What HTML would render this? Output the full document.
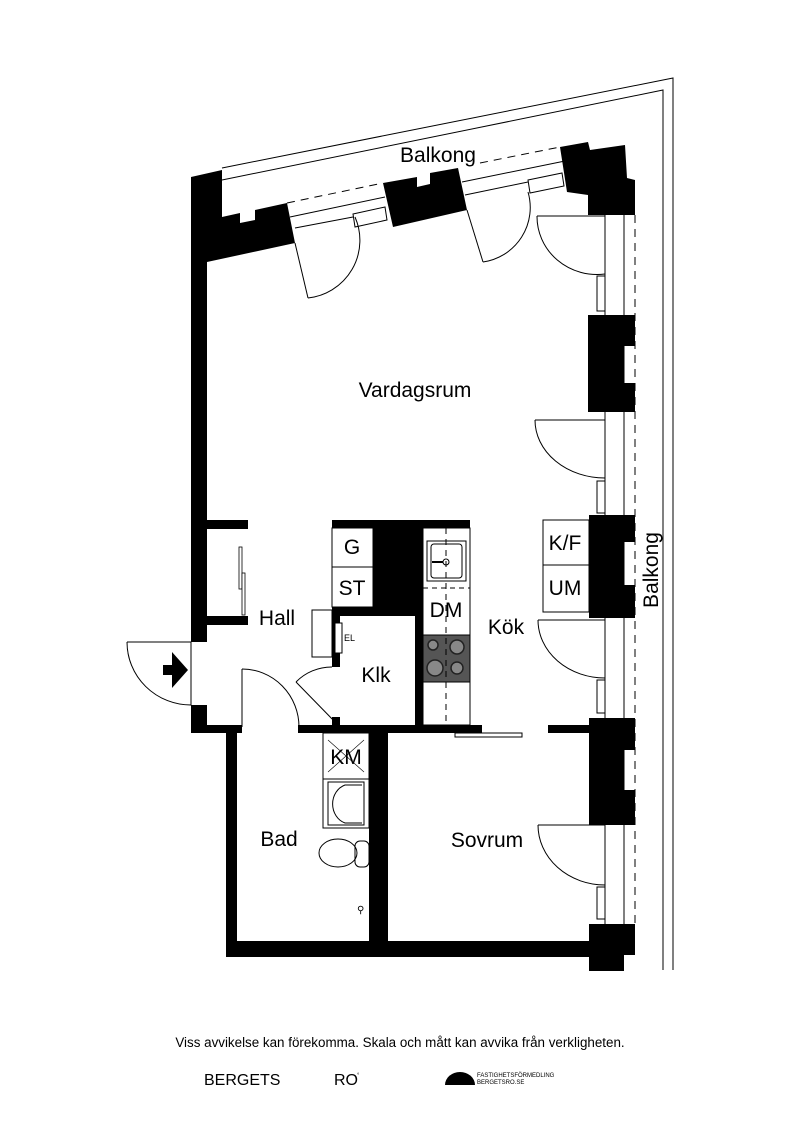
<!DOCTYPE html>
<html><head><meta charset="utf-8"><style>
html,body{margin:0;padding:0;background:#fff}
svg{display:block}
text{font-family:"Liberation Sans",Arial,sans-serif;fill:#000}
</style></head><body>
<svg width="800" height="1131" viewBox="0 0 800 1131" xmlns="http://www.w3.org/2000/svg">
<g fill="none" stroke="#000" stroke-width="1">
<polyline points="222,168 673,78 673,970"/>
<polyline points="222,180 663,90 663,970"/>
<line x1="287" y1="203" x2="383" y2="183" stroke-dasharray="8,6"/>
<line x1="290" y1="217" x2="385" y2="197"/>
<line x1="295" y1="228" x2="353" y2="217"/>
<line x1="480" y1="163" x2="560" y2="147" stroke-dasharray="8,6"/>
<line x1="462" y1="182" x2="565" y2="161"/>
<line x1="465" y1="195" x2="528" y2="182"/>
<line x1="605" y1="215" x2="605" y2="924"/>
<line x1="624" y1="215" x2="624" y2="924"/>
<line x1="635" y1="215" x2="635" y2="924" stroke-dasharray="8,6"/>
</g>
<g fill="#fff" stroke="#000" stroke-width="1">
<polygon points="353,214 385,207 387,220 355,227"/>
<polygon points="528,180 562,173 564,186 530,193"/>
<rect x="597" y="276" width="8" height="35"/>
<rect x="597" y="481" width="8" height="32"/>
<rect x="597" y="680" width="8" height="33"/>
<rect x="597" y="887" width="8" height="32"/>
</g>
<g fill="#000">
<polygon points="191,177 222,170 222,217 240,213 240,223 255,220 255,210 287,203 295,243 207,262 207,522 191,522"/>
<polygon points="383,183 417,177 417,187 430,184 430,173 458,168 467,210 393,227"/>
<polygon points="560,147 588,142 590,150 625,145 627,178 635,180 635,215 588,215 588,195 567,192"/>
<polygon points="588,315 635,315 635,346 624,346 624,383 635,383 635,412 588,412"/>
<polygon points="589,515 635,515 635,542 624,542 624,585 635,585 635,618 589,618"/>
<polygon points="589,718 635,718 635,750 624,750 624,790 635,790 635,825 589,825"/>
<polygon points="589,924 635,924 635,955 624,955 624,971 589,971"/>
<rect x="191" y="510" width="16" height="132"/>
<rect x="207" y="520" width="41" height="9"/>
<rect x="207" y="616" width="41" height="9"/>
<rect x="191" y="705" width="16" height="28"/>
<rect x="191" y="725" width="51" height="8"/>
<rect x="226" y="725" width="11" height="232"/>
<rect x="226" y="941" width="363" height="16"/>
<rect x="298" y="725" width="184" height="8"/>
<rect x="548" y="725" width="41" height="8"/>
<rect x="369" y="733" width="19" height="208"/>
<rect x="332" y="520" width="138" height="8"/>
<rect x="373" y="528" width="50" height="79"/>
<rect x="332" y="607" width="83" height="9"/>
<rect x="332" y="607" width="8" height="60"/>
<rect x="332" y="717" width="8" height="10"/>
<rect x="415" y="607" width="8" height="120"/>
</g>
<g fill="#fff" stroke="#000" stroke-width="0.8">
<rect x="239" y="547" width="3" height="42"/>
<rect x="242" y="573" width="3" height="42"/>
</g>
<g stroke="#000" stroke-width="1" fill="#fff">
<rect x="332" y="528" width="41" height="39"/>
<rect x="332" y="567" width="41" height="40"/>
<rect x="423" y="528" width="47" height="197"/>
<rect x="427" y="541" width="39" height="40"/>
<rect x="431" y="544" width="31" height="34" rx="3"/>
<rect x="423" y="635" width="47" height="47" fill="#555"/>
<rect x="543" y="520" width="46" height="45"/>
<rect x="543" y="565" width="46" height="47"/>
<rect x="312" y="610" width="20" height="47"/>
<rect x="335" y="623" width="7" height="30"/>
<rect x="455" y="733" width="67" height="4"/>
</g>
<line x1="446" y1="528" x2="446" y2="725" stroke="#000" stroke-dasharray="6,5"/>
<line x1="423" y1="588" x2="470" y2="588" stroke="#000" stroke-dasharray="5,4"/>
<circle cx="446" cy="562" r="3" fill="none" stroke="#000"/>
<line x1="432" y1="562" x2="443" y2="562" stroke="#000" stroke-width="2"/>
<g fill="#888" stroke="#222" stroke-width="1.5">
<circle cx="433" cy="645" r="5"/><circle cx="457" cy="647" r="7"/>
<circle cx="435" cy="668" r="8"/><circle cx="457" cy="668" r="6"/>
</g>
<g fill="none" stroke="#000" stroke-width="1">
<line x1="295" y1="243" x2="308" y2="298"/><path d="M308,298 A58,58 0 0 0 355,217"/>
<line x1="467" y1="210" x2="483" y2="262"/><path d="M483,262 A55,55 0 0 0 528,192"/>
<line x1="537" y1="216" x2="605" y2="216"/><path d="M537,216 A60,58 0 0 0 605,274"/>
<line x1="535" y1="420" x2="605" y2="420"/><path d="M535,420 A70,58 0 0 0 605,478"/>
<line x1="538" y1="620" x2="605" y2="620"/><path d="M538,620 A67,58 0 0 0 605,678"/>
<line x1="538" y1="825" x2="605" y2="825"/><path d="M538,825 A67,60 0 0 0 605,885"/>
<line x1="127" y1="642" x2="191" y2="642"/><line x1="191" y1="642" x2="191" y2="705"/><path d="M127,642 A64,63 0 0 0 191,705"/>
<line x1="242" y1="727" x2="242" y2="669"/><path d="M242,669 A57,58 0 0 1 299,727"/>
<line x1="338" y1="725" x2="296" y2="682"/><path d="M296,682 A50,50 0 0 1 332,667"/>
<rect x="323" y="733" width="46" height="46"/>
<line x1="323" y1="779" x2="369" y2="779" stroke-dasharray="4,3"/>
<line x1="328" y1="740" x2="364" y2="772" stroke-width="0.6"/><line x1="364" y1="740" x2="328" y2="772" stroke-width="0.6"/>
<rect x="369" y="738" width="11" height="40"/>
<rect x="323" y="779" width="46" height="49"/>
<rect x="328" y="782" width="36" height="43"/>
<path d="M362,785 L345,785 A18,20 0 0 0 345,823 L362,823"/>
<ellipse cx="338" cy="853" rx="19" ry="14"/>
<rect x="355" y="841" width="14" height="26" rx="5"/>
</g>
<path d="M163,665 H172 V652 L188,670 L172,688 V675 H163 Z" fill="#000"/>
<g font-size="10" fill="#000"><text x="357" y="913">⚲</text></g>
<g font-size="21">
<text x="415" y="397" text-anchor="middle">Vardagsrum</text>
<text x="438" y="162" text-anchor="middle">Balkong</text>
<text x="277" y="625" text-anchor="middle">Hall</text>
<text x="376" y="682" text-anchor="middle">Klk</text>
<text x="506" y="634" text-anchor="middle">Kök</text>
<text x="279" y="846" text-anchor="middle">Bad</text>
<text x="487" y="847" text-anchor="middle">Sovrum</text>
<text x="352" y="554" text-anchor="middle">G</text>
<text x="352" y="595" text-anchor="middle">ST</text>
<text x="446" y="617" text-anchor="middle">DM</text>
<text x="565" y="550" text-anchor="middle">K/F</text>
<text x="565" y="595" text-anchor="middle">UM</text>
<text x="346" y="764" text-anchor="middle">KM</text>
<text x="0" y="0" text-anchor="middle" transform="translate(658,570) rotate(-90)">Balkong</text>
</g>
<text x="344" y="641" font-size="9">EL</text>
<text x="0" y="0" font-size="9" text-anchor="middle" transform="translate(378,758) rotate(-90)">GVF</text>
<text x="400" y="1047" font-size="13.4" text-anchor="middle">Viss avvikelse kan förekomma. Skala och mått kan avvika från verkligheten.</text>
<text x="204" y="1085" font-size="16">BERGETS</text>
<text x="334" y="1085" font-size="16">RO</text>
<text x="357" y="1077" font-size="6">°</text>
<path d="M445,1085 A15,13 0 0 1 475,1085 Z" fill="#000"/>
<text x="477" y="1077" font-size="6">FASTIGHETSFÖRMEDLING</text>
<text x="477" y="1084" font-size="6">BERGETSRO.SE</text>
</svg>
</body></html>
